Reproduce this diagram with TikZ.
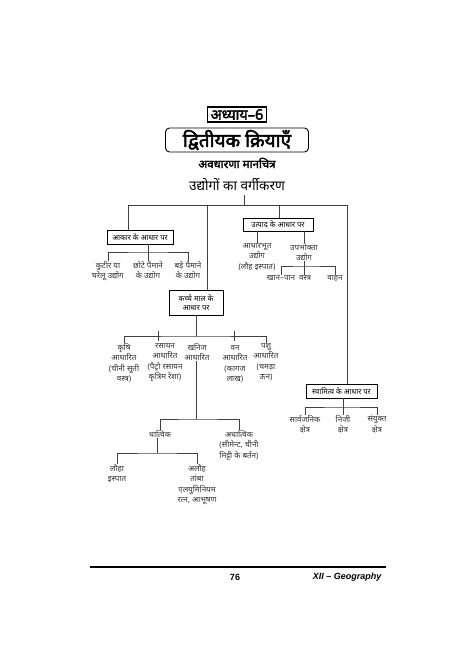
\documentclass[tikz,border=0pt]{standalone}
\usepackage{fontspec}
\setmainfont{Liberation Sans}
\newfontfamily\deva[Script=Devanagari]{Noto Sans}
\newfontfamily\devabold[Script=Devanagari,FakeBold=2.5]{Noto Sans}
\usepackage{tikz}
\usetikzlibrary{positioning,calc}

\begin{document}
\begin{tikzpicture}[x=1pt, y=-1pt]
        \tikzset{
            catbox/.style={draw, rectangle, align=center, line width=0.7pt, inner sep=1pt, font=\deva\fontsize{7.6}{9.5}\selectfont},
            leaf/.style={anchor=north, align=center, inner sep=0pt, font=\deva\fontsize{8}{10.5}\selectfont, text=black!80},
            link/.style={line width=0.7pt, draw=black!75},
        }
        \useasboundingbox (0,0) rectangle (474,670);

        % Heading
        \node [draw, line width=1.2pt, inner xsep=3pt, inner ysep=0pt, minimum height=15pt, font=\devabold\fontsize{14.5}{14}\selectfont] (adhyay) at (237,114.5) {अध्याय–6};
        \node [draw, line width=0.9pt, rounded corners=4pt, minimum width=143pt, minimum height=24pt, inner ysep=0pt, font=\devabold\fontsize{19}{19}\selectfont] (title) at (237,140) {द्वितीयक क्रियाएँ};
        \node [font=\devabold\fontsize{11.5}{12}\selectfont] (concept) at (237,163) {अवधारणा मानचित्र};
        \node [font=\deva\fontsize{13.5}{14}\selectfont] (root) at (237,185) {उद्योगों का वर्गीकरण};

        % Category boxes
        \node [catbox, minimum width=66pt, minimum height=14pt] (aakar) at (140,237) {आकार के आधार पर};
        \node [catbox, minimum width=70pt, minimum height=13pt] (utpad) at (278,224.5) {उत्पाद के आधार पर};
        \node [catbox, minimum width=54pt, minimum height=25pt] (kachcha) at (196,302.5) {कच्चे माल के\\आधार पर};
        \node [catbox, minimum width=71pt, minimum height=14pt] (swamitva) at (341.5,391) {स्वामित्व के आधार पर};

        % Main bus
        \coordinate (b0) at (244,205);
        \coordinate (d1) at (128,205);
        \coordinate (d2) at (207,205);
        \coordinate (d3) at (279,205);
        \coordinate (d4) at (347,205);
        \draw [link] (root.south -| b0) -- (b0);
        \draw [link] (aakar.north -| d1) -- (d1) -- (d4) -- (swamitva.north -| d4);
        \draw [link] (d2) -- (kachcha.north -| d2);
        \draw [link] (d3) -- (utpad.north -| d3);

        % By size
        \node [leaf] (kutir) at (108,261) {कुटीर या\\घरेलू उद्योग};
        \node [leaf] (chhote) at (148,261) {छोटे पैमाने\\के उद्योग};
        \node [leaf] (bade) at (188,261) {बड़े पैमाने\\के उद्योग};
        \coordinate (a0) at (148,252);
        \draw [link] (aakar.south -| a0) -- (chhote.north);
        \draw [link] (kutir.north) |- (a0) -| (bade.north);

        % By product
        \node [leaf] (aadhar) at (257,243) {आधारभूत\\उद्योग\\(लौह इस्पात)};
        \node [leaf] (upbhokta) at (304,243) {उपभोक्ता\\उद्योग};
        \draw [link] (utpad.south -| aadhar) -- (aadhar.north);
        \draw [link] (utpad.south -| upbhokta) -- (upbhokta.north);
        \node [leaf] (khanpan) at (281,275) {खान–पान};
        \node [leaf] (vastra) at (305,275) {वस्त्र};
        \node [leaf] (vahan) at (335,275) {वाहन};
        \coordinate (u0) at (304,266);
        \draw [link] (upbhokta.south) -- (upbhokta.south |- vastra.north);
        \draw [link] (khanpan.north) |- (u0) -| (vahan.north);

        % By raw material
        \node [leaf] (krishi) at (124,343) {कृषि\\आधारित\\(चीनी सूती\\वस्त्र)};
        \node [leaf] (rasayan) at (165,343) {रसायन\\आधारित\\(पैट्रो रसायन\\कृत्रिम रेशा)};
        \node [leaf] (khanij) at (197,343) {खनिज\\आधारित};
        \node [leaf] (van) at (235,345) {वन\\आधारित\\(कागज\\लाख)};
        \node [leaf] (pashu) at (266,343) {पशु\\आधारित\\(चमड़ा\\ऊन)};
        \coordinate (k0) at (196,336);
        \coordinate (k1) at (158,336);
        \coordinate (k2) at (234,336);
        \draw [link] (kachcha.south) -- (k0);
        \draw [link] (krishi.north) |- (k0) -| (pashu.north);
        \draw [link] ($(k1)+(0,-5)$) -- ($(k1)+(0,5)$);
        \draw [link] ($(k2)+(0,-5)$) -- ($(k2)+(0,5)$);

        % Minerals
        \node [leaf] (dhatvik) at (160,430) {धात्विक};
        \node [leaf] (adhatvik) at (239,430) {अधात्विक\\(सीमेन्ट, चीनी\\मिट्टी के बर्तन)};
        \coordinate (m0) at (196,419);
        \draw [link] (khanij.south -| m0) -- (m0);
        \draw [link] (dhatvik.north) |- (m0) -| (adhatvik.north);
        \node [leaf] (lauha) at (117,464) {लौहा\\इस्पात};
        \node [leaf] (alauh) at (197,464) {अलौह\\तांबा\\एलयुमिनियम\\रत्न, आभूषण};
        \coordinate (m1) at (157,453);
        \draw [link] (dhatvik.south -| m1) -- (m1);
        \draw [link] (lauha.north) |- (m1) -| (alauh.north);

        % By ownership
        \node [leaf] (sarv) at (305,415) {सार्वजनिक\\क्षेत्र};
        \node [leaf] (niji) at (343,415) {निजी\\क्षेत्र};
        \node [leaf] (sanyukt) at (377,415) {संयुक्त\\क्षेत्र};
        \coordinate (s0) at (343,407);
        \draw [link] (swamitva.south -| s0) -- (niji.north);
        \draw [link] (sarv.north) |- (s0) -| (sanyukt.north);

        % Footer
        \coordinate (f0) at (90,567);
        \coordinate (f1) at (386,567);
        \draw [line width=1.4pt] (f0) -- (f1);
        \node [font=\bfseries\fontsize{9}{10}\selectfont] (page) at (235,577) {76};
        \node [anchor=east, font=\bfseries\itshape\fontsize{9}{10}\selectfont] (book) at (385,577) {XII – Geography};
    \end{tikzpicture}
\end{document}
